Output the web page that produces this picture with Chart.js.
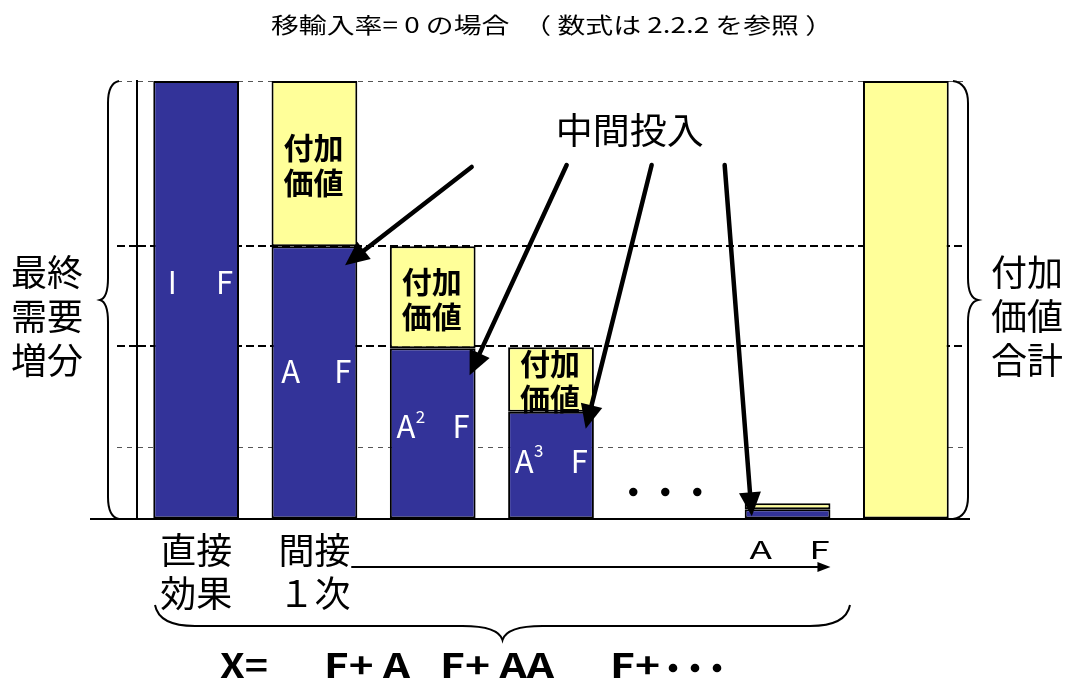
<!DOCTYPE html>
<html><head><meta charset="utf-8">
<script src="https://cdn.jsdelivr.net/npm/chart.js@4"></script>
<style>html,body{margin:0;padding:0;background:#fff}#wrap{width:1071px;height:680px;position:relative}</style>
</head><body><div id="wrap"><canvas id="c"></canvas></div>
<script>
// ---- data ----
const categories = ['直接効果', '間接1次', '間接2次', '間接3次', '…', '間接n次', '付加価値合計'];
const tickLabels = [['直接', '効果'], ['間接', '１次'], '', '', '', '', ''];
const intermediateInput = [100, 62.3, 39.0, 24.5, null, 2.2, null];
const valueAdded = [null, 37.7, 23.3, 14.7, null, 1.4, 100];
const guideLevels = [0, 16.4, 39.5, 62.3, 100];
const boldLevels = [39.5, 62.3];
const barFormulas = [['I', '', 'F'], ['A', '', 'F'], ['A', '2', 'F'], ['A', '3', 'F'], null, null, null];
const arrowTargets = [1, 2, 3, 5];
const titleText = '移輸入率= 0 の場合　（ 数式は 2.2.2 を参照 ）';
const leftLabel = ['最終', '需要', '増分'];
const rightLabel = ['付加', '価値', '合計'];
const calloutText = '中間投入';
const addedValueText = ['付加', '価値'];
const nthLabel = 'A　F';
const formulaParts = ['X=', 'F+ A', 'F+ AA', 'F+'];

const FONT = '"Noto Sans CJK JP", "Noto Sans", sans-serif';
const BLUE = '#333399', YELLOW = '#FFFF99';

function fitText(ctx, txt, cx, cy, w, font, color, align) {
  ctx.save();
  ctx.font = font; ctx.fillStyle = color || '#000';
  ctx.textAlign = align || 'center'; ctx.textBaseline = 'middle';
  const m = ctx.measureText(txt).width;
  const s = w ? w / m : 1;
  ctx.translate(cx, cy); ctx.scale(s, 1); ctx.fillText(txt, 0, 0);
  ctx.restore();
}
function arrow(ctx, x1, y1, x2, y2, lw, hl, hw) {
  const a = Math.atan2(y2 - y1, x2 - x1);
  const bx = x2 - hl * Math.cos(a), by = y2 - hl * Math.sin(a);
  ctx.save();
  ctx.strokeStyle = '#000'; ctx.fillStyle = '#000'; ctx.lineWidth = lw; ctx.lineCap = 'round';
  ctx.beginPath(); ctx.moveTo(x1, y1); ctx.lineTo(bx, by); ctx.stroke();
  ctx.beginPath(); ctx.moveTo(x2, y2);
  ctx.lineTo(bx + hw * Math.sin(a), by - hw * Math.cos(a));
  ctx.lineTo(bx - hw * Math.sin(a), by + hw * Math.cos(a));
  ctx.closePath(); ctx.fill();
  ctx.restore();
}
// brace along axis a (a1..a2), ends at p0, spine p1, tip p2; vertical => x=p, y=a
function brace(ctx, a1, a2, p0, p1, p2, r, vertical) {
  const P = (a, p) => vertical ? [p, a] : [a, p];
  const mid = (a1 + a2) / 2;
  ctx.save(); ctx.strokeStyle = '#000'; ctx.lineWidth = 2;
  ctx.beginPath();
  ctx.moveTo(...P(a1, p0));
  ctx.quadraticCurveTo(...P(a1 + r * 0.1, p1), ...P(a1 + r, p1));
  ctx.lineTo(...P(mid - r, p1));
  ctx.quadraticCurveTo(...P(mid - r * 0.1, p1), ...P(mid, p2));
  ctx.quadraticCurveTo(...P(mid + r * 0.1, p1), ...P(mid + r, p1));
  ctx.lineTo(...P(a2 - r, p1));
  ctx.quadraticCurveTo(...P(a2 - r * 0.1, p1), ...P(a2, p0));
  ctx.stroke(); ctx.restore();
}

const decor = {
  id: 'decor',
  afterDatasetsDraw(chart) {
    const { ctx, chartArea: ca, scales: { x, y } } = chart;
    const blue = chart.getDatasetMeta(0).data;
    const yel = chart.getDatasetMeta(1).data;
    const y0 = y.getPixelForValue(0), yTop = y.getPixelForValue(100);
    ctx.save();
    // baseline
    ctx.strokeStyle = '#000'; ctx.lineWidth = 2;
    ctx.beginPath(); ctx.moveTo(90, y0); ctx.lineTo(ca.right + 5, y0); ctx.stroke();

    // formulas in blue segments
    barFormulas.forEach((f, i) => {
      if (!f || intermediateInput[i] == null) return;
      const b = blue[i];
      const left = b.x - b.width / 2, right = b.x + b.width / 2;
      const ty = b.base + (b.y - b.base) * 0.54;
      ctx.fillStyle = '#fff'; ctx.textBaseline = 'middle';
      ctx.font = '31px ' + FONT;
      ctx.textAlign = 'center';
      ctx.fillText(f[0], left + (f[1] ? 16 : 19), ty);
      if (f[1]) { ctx.font = '17px ' + FONT; ctx.textAlign = 'left'; ctx.fillText(f[1], left + 26, ty - 10); }
      ctx.font = '31px ' + FONT; ctx.textAlign = 'right';
      ctx.fillText(f[2], right - 6, ty);
    });
    // value-added labels in yellow segments
    yel.forEach((e, i) => {
      if (valueAdded[i] == null || intermediateInput[i] == null) return;
      if (Math.abs(e.base - e.y) < 40) return;
      const cy = (e.y + e.base) / 2 + 2;
      ctx.fillStyle = '#000'; ctx.textAlign = 'center'; ctx.textBaseline = 'middle';
      ctx.font = 'bold 30px ' + FONT;
      ctx.fillText(addedValueText[0], e.x - 1, cy - 18);
      ctx.fillText(addedValueText[1], e.x - 1, cy + 17);
    });
    // dots column
    const dx = x.getPixelForValue(4);
    ctx.fillStyle = '#000';
    [-1, 0, 1].forEach(k => { ctx.beginPath(); ctx.arc(dx - 4 + k * 32, y0 - 27, 4.2, 0, Math.PI * 2); ctx.fill(); });
    // nth label under bar
    const nb = blue[5];
    fitText(ctx, nthLabel, nb.x + 2, 550, 80, '24px ' + FONT, '#000');

    // callout
    const lx = ca.left + 0.595 * (ca.right - ca.left), ly = 130;
    fitText(ctx, calloutText, lx, ly, 148, '36px ' + FONT, '#000');
    const tails = [[-158, 37], [-63, 35], [22, 35], [95, 35]];
    const tipFx = [0.857, 0.93, 0.905, 0.083], tipDy = [19, 27, 17, 7];
    arrowTargets.forEach((t, k) => {
      const b = blue[t];
      const left = b.x - b.width / 2;
      arrow(ctx, lx + tails[k][0], ly + tails[k][1], left + b.width * tipFx[k], b.y + tipDy[k], 4.5, 24, 11);
    });

    // title
    fitText(ctx, titleText, 552, 25, 562, '22px ' + FONT, '#000');
    // braces
    brace(ctx, yTop, y0, 119, 108, 100, 22, true);
    brace(ctx, yTop, y0, ca.right - 12, ca.right + 3, ca.right + 13, 22, true);
    // side labels
    ctx.fillStyle = '#000'; ctx.font = '36px ' + FONT; ctx.textAlign = 'center'; ctx.textBaseline = 'middle';
    leftLabel.forEach((t, k) => ctx.fillText(t, 47, 272 + k * 44));
    rightLabel.forEach((t, k) => ctx.fillText(t, 1027, 272 + k * 44));
    // indirect arrow
    arrow(ctx, 352, 567, nb.x + nb.width / 2, 567, 2, 13, 5);
    // bottom brace
    brace(ctx, 155, 850, 605, 626, 640, 40, false);
    // formula
    const fx = [244, 367, 497, 635], fw = [48, 86, 114, 50];
    formulaParts.forEach((t, k) => fitText(ctx, t, fx[k], 665, fw[k], 'bold 34px ' + FONT, '#000'));
    ctx.fillStyle = '#000';
    [673, 695, 717].forEach(px => { ctx.beginPath(); ctx.arc(px, 668, 4.3, 0, Math.PI * 2); ctx.fill(); });
    ctx.restore();
  }
};

Chart.defaults.font.family = FONT;
new Chart(document.getElementById('c'), {
  type: 'bar',
  data: {
    labels: categories,
    datasets: [
      { label: '中間投入', data: intermediateInput, backgroundColor: BLUE, borderColor: '#000', borderWidth: 2, borderSkipped: false },
      { label: '付加価値', data: valueAdded, backgroundColor: YELLOW, borderColor: '#000', borderWidth: 2, borderSkipped: false }
    ]
  },
  options: {
    responsive: true, maintainAspectRatio: false, animation: false,
    layout: { padding: { top: 81, right: 106, left: 0, bottom: 0 } },
    datasets: { bar: { barPercentage: 0.725, categoryPercentage: 1 } },
    plugins: { legend: { display: false }, tooltip: { enabled: false }, title: { display: false } },
    scales: {
      x: {
        stacked: true,
        grid: { display: false, drawTicks: false },
        border: { display: false },
        ticks: {
          autoSkip: false, maxRotation: 0, padding: 10, color: '#000',
          font: { size: 36, family: FONT, lineHeight: 1.2 },
          callback: (v, i) => tickLabels[i]
        },
        afterFit: s => { s.height = 161; }
      },
      y: {
        stacked: true, min: 0, max: 100,
        afterBuildTicks: s => { s.ticks = guideLevels.map(v => ({ value: v })); },
        ticks: { display: false },
        grid: {
          drawTicks: true, tickLength: 20,
          color: c => (c.tick && c.tick.value === 0) ? 'rgba(0,0,0,0)' : (c.tick && boldLevels.includes(c.tick.value) ? '#000' : '#555'),
          lineWidth: c => (c.tick && boldLevels.includes(c.tick.value)) ? 2 : 1,
          tickBorderDash: c => (c.tick && boldLevels.includes(c.tick.value)) ? [8, 4] : [5, 5]
        },
        border: {
          display: true, color: '#000', width: 2,
          dash: c => (c.tick && boldLevels.includes(c.tick.value)) ? [8, 4] : [5, 5]
        },
        afterFit: s => { s.width = 137; }
      }
    }
  },
  plugins: [decor]
});
</script>
</body></html>
